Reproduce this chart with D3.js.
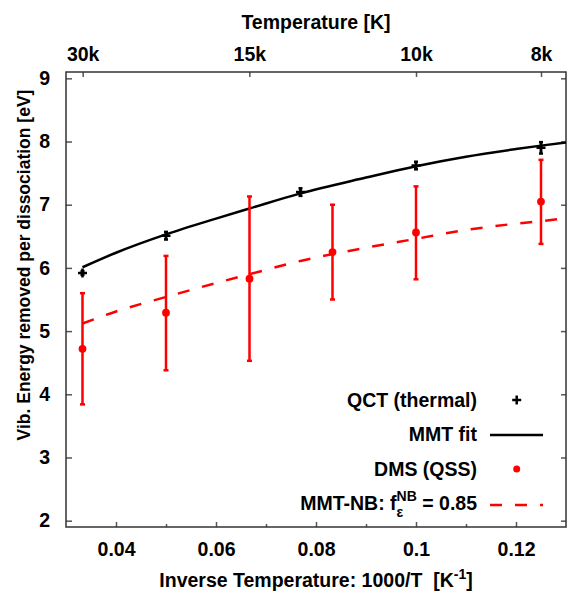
<!DOCTYPE html>
<html>
<head>
<meta charset="utf-8">
<script src="https://cdn.jsdelivr.net/npm/d3@7"></script>
<style>
  html, body { margin: 0; padding: 0; background: #fff; }
  svg text { font-family: "Liberation Sans", Arial, Helvetica, sans-serif; font-weight: bold; fill: #000; }
</style>
</head>
<body>
<svg id="chart" width="567" height="591"></svg>
<script>
// ---------------- data ----------------
// QCT (thermal) points: inverse temperature 1000/T [1/K] and energy [eV]
const qctInvT = [0.0333, 0.05, 0.0769, 0.1, 0.125];
const qctVal  = [5.92, 6.51, 7.20, 7.62, 7.90];
const qctErr  = [0.03, 0.06, 0.06, 0.06, 0.09];

// DMS (QSS) points with error bars
const dmsInvT = [0.0333, 0.05, 0.0667, 0.0833, 0.1, 0.125];
const dmsVal  = [4.72, 5.29, 5.83, 6.25, 6.56, 7.05];
const dmsLow  = [3.84, 4.38, 4.53, 5.50, 5.82, 6.38];
const dmsHigh = [5.60, 6.19, 7.13, 7.00, 7.29, 7.71];

// MMT fit curve
const fitInvT = [0.0333, 0.04, 0.05, 0.06, 0.0667, 0.0769, 0.09, 0.1, 0.11, 0.12, 0.125, 0.13];
const fitVal  = [6.01, 6.24, 6.53, 6.78, 6.94, 7.18, 7.43, 7.61, 7.76, 7.88, 7.935, 7.985];

// MMT-NB curve
const nbInvT  = [0.0333, 0.04, 0.05, 0.06, 0.0667, 0.0769, 0.09, 0.1, 0.11, 0.12, 0.125, 0.13];
const nbVal   = [5.12, 5.31, 5.54, 5.76, 5.90, 6.11, 6.32, 6.46, 6.60, 6.70, 6.74, 6.79];

// tick labels
const xTicks      = [0.04, 0.06, 0.08, 0.1, 0.12];
const xMinorTicks = [0.05, 0.07, 0.09, 0.11];
const yTicks      = [2, 3, 4, 5, 6, 7, 8, 9];
const tempTicksK  = [30000, 15000, 10000, 8000];
const tempLabels  = ["30k", "15k", "10k", "8k"];

const legendLabels = ["QCT (thermal)", "MMT fit", "DMS (QSS)", "MMT-NB"];

// ---------------- layout ----------------
const svg = d3.select("#chart");
const L = 66, R = 566, T = 72, B = 527;
const FS = 19.5;

const x = d3.scaleLinear().domain([0.03, 0.13]).range([L, R]);
const y = d3.scaleLinear().domain([1.9, 9.1]).range([B, T]);

const frameColor = "#333";
const tickColor = "#555";

// axes (ticks inward)
const gBottom = svg.append("g").attr("transform", `translate(0,${B})`)
  .call(d3.axisBottom(x).tickValues(xTicks).tickSize(-5).tickPadding(15)
        .tickFormat(d => d3.format("")(+d.toFixed(2))));
const gBottomMinor = svg.append("g").attr("transform", `translate(0,${B})`)
  .call(d3.axisBottom(x).tickValues(xMinorTicks).tickSize(-3).tickFormat(""));
const gLeft = svg.append("g").attr("transform", `translate(${L},0)`)
  .call(d3.axisLeft(y).tickValues(yTicks).tickSize(-6).tickPadding(16));
const gRight = svg.append("g").attr("transform", `translate(${R},0)`)
  .call(d3.axisRight(y).tickValues(yTicks).tickSize(-5).tickFormat(""));
const gTop = svg.append("g").attr("transform", `translate(0,${T})`)
  .call(d3.axisTop(x).tickValues(tempTicksK.map(t => 1000 / t)).tickSize(-5).tickPadding(11)
        .tickFormat((d, i) => tempLabels[i]));

[gBottom, gBottomMinor, gLeft, gRight, gTop].forEach(g => {
  g.select(".domain").remove();
  g.selectAll(".tick line").attr("stroke", tickColor).attr("stroke-width", 1.5);
  g.selectAll(".tick text").attr("font-size", FS).attr("font-family", null).attr("fill", "#000");
});

// frame
svg.append("rect").attr("x", L).attr("y", T).attr("width", R - L).attr("height", B - T)
  .attr("fill", "none").attr("stroke", frameColor).attr("stroke-width", 1.5);

// clip
svg.append("clipPath").attr("id", "clip").append("rect")
  .attr("x", L).attr("y", T).attr("width", R - L).attr("height", B - T);
const plot = svg.append("g").attr("clip-path", "url(#clip)");

const line = d3.line().x(d => x(d[0])).y(d => y(d[1])).curve(d3.curveMonotoneX);

// MMT fit
plot.append("path").datum(fitInvT.map((v, i) => [v, fitVal[i]]))
  .attr("d", line).attr("fill", "none").attr("stroke", "#000").attr("stroke-width", 2.5);

// MMT-NB dashed
plot.append("path").datum(nbInvT.map((v, i) => [v, nbVal[i]]))
  .attr("d", line).attr("fill", "none").attr("stroke", "#f00").attr("stroke-width", 2.5)
  .attr("stroke-dasharray", "12,13");

// DMS error bars
const red = "#f00";
const dms = dmsInvT.map((v, i) => ({ x: v, y: dmsVal[i], lo: dmsLow[i], hi: dmsHigh[i] }));
const eb = plot.append("g").attr("stroke", red).attr("stroke-width", 2.5).attr("fill", "none");
dms.forEach(d => {
  const px = x(d.x);
  eb.append("line").attr("x1", px).attr("x2", px).attr("y1", y(d.lo)).attr("y2", y(d.hi));
  eb.append("line").attr("x1", px - 2.5).attr("x2", px + 2.5).attr("y1", y(d.lo)).attr("y2", y(d.lo));
  eb.append("line").attr("x1", px - 2.5).attr("x2", px + 2.5).attr("y1", y(d.hi)).attr("y2", y(d.hi));
});
plot.append("g").selectAll("circle").data(dms).join("circle")
  .attr("cx", d => x(d.x)).attr("cy", d => y(d.y)).attr("r", 3.9).attr("fill", red);

// QCT points with small error bars
const qct = qctInvT.map((v, i) => ({ x: v, y: qctVal[i], e: qctErr[i] }));
const qg = plot.append("g").attr("stroke", "#000").attr("stroke-width", 2.5).attr("fill", "none");
qct.forEach(d => {
  const px = x(d.x), py = y(d.y);
  qg.append("path").attr("d", `M${px - 4.5},${py}H${px + 4.5}M${px},${py - 4.5}V${py + 4.5}`);
  qg.append("line").attr("x1", px).attr("x2", px).attr("y1", y(d.y - d.e)).attr("y2", y(d.y + d.e));
  qg.append("line").attr("x1", px - 2).attr("x2", px + 2).attr("y1", y(d.y - d.e)).attr("y2", y(d.y - d.e));
  qg.append("line").attr("x1", px - 2).attr("x2", px + 2).attr("y1", y(d.y + d.e)).attr("y2", y(d.y + d.e));
});

// ---------------- legend ----------------
const lg = svg.append("g");
const lx = 477, sx1 = 490, sx2 = 543, smid = 516.7;
const rowBase = [407, 441, 476, 510];
const rowMid  = [400, 435, 469, 505];

for (let i = 0; i < 3; i++) {
  lg.append("text").attr("x", lx).attr("y", rowBase[i]).attr("text-anchor", "end")
    .attr("font-size", FS).text(legendLabels[i]);
}
// MMT-NB label with sub/superscripts
const nbText = lg.append("text").attr("x", lx).attr("y", rowBase[3]).attr("text-anchor", "end")
  .attr("font-size", FS);
nbText.append("tspan").text(legendLabels[3] + ": f");
const tmp = svg.append("text").attr("font-size", 14).attr("font-weight", "bold").text("ε");
const epsW = tmp.node().getComputedTextLength();
tmp.remove();
nbText.append("tspan").attr("font-size", 14).attr("dy", 7).text("ε");
nbText.append("tspan").attr("font-size", 14).attr("dx", -epsW).attr("dy", -16).text("NB");
nbText.append("tspan").attr("dy", 9).text(" = 0.85");

// samples
lg.append("path").attr("d", `M${smid - 4.5},${rowMid[0]}H${smid + 4.5}M${smid},${rowMid[0] - 4.5}V${rowMid[0] + 4.5}`)
  .attr("stroke", "#000").attr("stroke-width", 2.5);
lg.append("line").attr("x1", sx1).attr("x2", sx2).attr("y1", rowMid[1]).attr("y2", rowMid[1])
  .attr("stroke", "#000").attr("stroke-width", 2.5);
lg.append("circle").attr("cx", smid).attr("cy", rowMid[2]).attr("r", 3.5).attr("fill", red);
lg.append("line").attr("x1", sx1).attr("x2", sx2).attr("y1", rowMid[3]).attr("y2", rowMid[3])
  .attr("stroke", red).attr("stroke-width", 2.5).attr("stroke-dasharray", "12,13");

// ---------------- axis titles ----------------
svg.append("text").attr("x", (L + R) / 2).attr("y", 29).attr("text-anchor", "middle")
  .attr("font-size", FS).text("Temperature [K]");

const xt = svg.append("text").attr("x", (L + R) / 2).attr("y", 587).attr("text-anchor", "middle")
  .attr("font-size", FS);
xt.append("tspan").text("Inverse Temperature: 1000/T\u00a0\u00a0[K");
xt.append("tspan").attr("font-size", 14).attr("dy", -8).text("-1");
xt.append("tspan").attr("dy", 8).text("]");

svg.append("text").attr("transform", "translate(30,265) rotate(-90)").attr("text-anchor", "middle")
  .attr("font-size", 17.5).text("Vib. Energy removed per dissociation [eV]");
</script>
</body>
</html>
